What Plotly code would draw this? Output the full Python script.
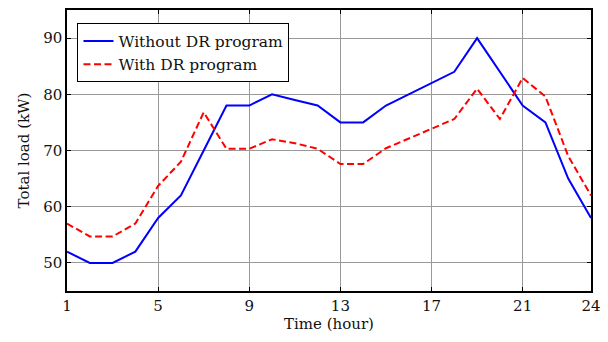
import plotly.graph_objects as go

hours = list(range(1, 25))
without_dr = [52, 50, 50, 52, 58, 62, 70, 78, 78, 80, 79, 78, 75, 75, 78, 80, 82, 84, 90, 84, 78, 75, 65, 58]
with_dr = [57, 54.7, 54.7, 57, 63.7, 68, 76.8, 70.3, 70.3, 72, 71.3, 70.3, 67.6, 67.6, 70.4, 72.1, 73.8, 75.6, 81, 75.6, 82.9, 79.6, 69, 62]
x_ticks = [1, 5, 9, 13, 17, 21, 24]
y_ticks = [50, 60, 70, 80, 90]

font_family = "DejaVu Serif"

fig = go.Figure()
fig.add_trace(go.Scatter(x=hours, y=without_dr, mode="lines", name="Without DR program",
                         line=dict(color="#0000ff", width=2)))
fig.add_trace(go.Scatter(x=hours, y=with_dr, mode="lines", name="With DR program",
                         line=dict(color="#ff0000", width=2, dash="7px,3.5px")))

axis_common = dict(showline=True, linecolor="black", linewidth=1.5, mirror="ticks",
                   ticks="inside", ticklen=4, tickcolor="black", automargin=False,
                   showgrid=True, gridcolor="#999999", gridwidth=1, zeroline=False,
                   tickfont=dict(family=font_family, size=15, color="#111"))

fig.update_layout(
    width=608, height=342,
    margin=dict(l=67, r=17, t=10, b=51),
    paper_bgcolor="white", plot_bgcolor="white",
    xaxis=dict(range=[1, 24], tickvals=x_ticks, ticktext=[str(v) for v in x_ticks],
               title=dict(text="Time (hour)", font=dict(family=font_family, size=15, color="#111"), standoff=4),
               **axis_common),
    yaxis=dict(range=[45, 95], tickvals=y_ticks, ticktext=[str(v) for v in y_ticks],
               title=dict(text="Total load (kW)", font=dict(family=font_family, size=15, color="#111"), standoff=10),
               **axis_common),
    legend=dict(x=0.02, y=0.952, xanchor="left", yanchor="top",
                bgcolor="white", bordercolor="black", borderwidth=1,
                font=dict(family=font_family, size=15.5, color="#111"),
                tracegroupgap=0, itemwidth=30),
    showlegend=True,
)

fig.write_html("out.html", config={"displayModeBar": False},
               post_script="document.body.style.margin='0';document.body.style.padding='0';")
